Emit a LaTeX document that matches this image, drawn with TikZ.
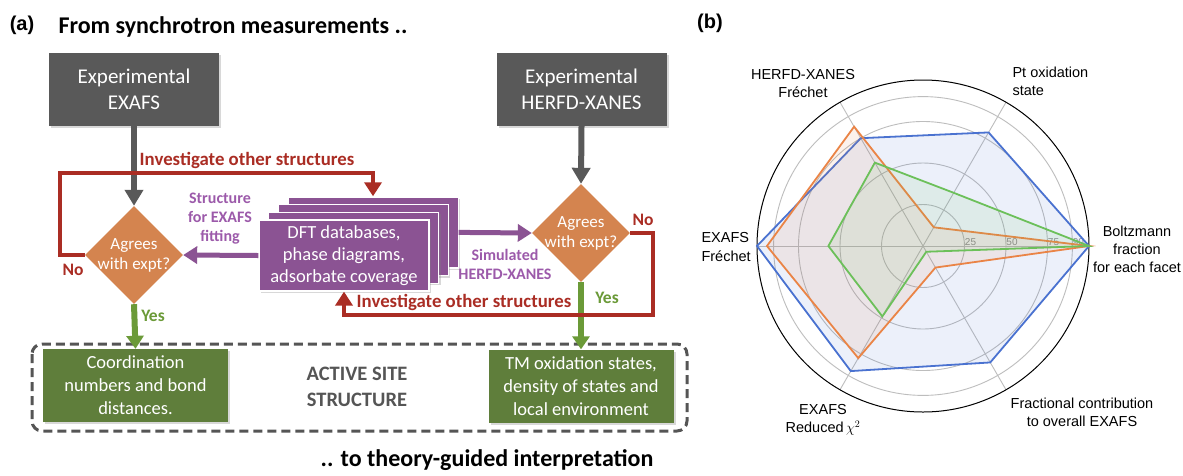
\documentclass[tikz,border=0pt]{standalone}
\usepackage{fontspec}
\setmainfont{Carlito}
\newfontfamily\arialfont{Liberation Sans}
\usepackage{tikz}
\usetikzlibrary{arrows.meta,calc,positioning,shapes.geometric,shadows}
\definecolor{BoxGray}{HTML}{595959}
\definecolor{Agree}{HTML}{D4844F}
\definecolor{Dft}{HTML}{8B5393}
\definecolor{DftText}{HTML}{9C5AAA}
\definecolor{Loop}{HTML}{AA2D24}
\definecolor{Leaf}{HTML}{5F7E3B}
\definecolor{LeafArrow}{HTML}{6B9A38}
\definecolor{Frame}{HTML}{555555}
\definecolor{GridGray}{HTML}{BDBDBD}
\definecolor{SetBlue}{HTML}{4A72D0}
\definecolor{SetOrange}{HTML}{EA8446}
\definecolor{SetGreen}{HTML}{6CC05A}
\def\rs{1.66}

\begin{document}
\begin{tikzpicture}[
  x=1pt,
  y=-1pt,
  softshadow/.style={drop shadow={opacity=0.3,shadow xshift=2pt,shadow yshift=-2pt}},
  expbox/.style={fill=BoxGray,text=white,minimum width=170pt,minimum height=73pt,inner sep=0pt,align=center,font=\fontsize{21}{26}\selectfont,softshadow},
  agree/.style={diamond,fill=Agree,minimum width=98pt,minimum height=98pt,inner sep=0pt},
  agreetext/.style={text=white,align=center,font=\fontsize{17}{20}\selectfont},
  dftbox/.style={fill=Dft,draw=white,line width=1.2pt,minimum width=170pt,minimum height=71pt,inner sep=0pt,align=center,text=white,font=\fontsize{18.5}{22}\selectfont,softshadow},
  leaf/.style={fill=Leaf,text=white,minimum width=185pt,minimum height=73pt,inner sep=0pt,align=center,font=\fontsize{18.5}{23}\selectfont,softshadow},
  grayarrow/.style={BoxGray,line width=6pt,-{Triangle[width=18pt,length=16pt]}},
  leafarrow/.style={LeafArrow,line width=6pt,-{Triangle[width=17pt,length=13pt]}},
  dftarrow/.style={Dft,line width=5pt,-{Triangle[width=17pt,length=14pt]}},
  loopline/.style={Loop,line width=4.5pt,-{Triangle[width=17pt,length=14pt]}},
  looplabel/.style={text=Loop,font=\bfseries\fontsize{18.8}{21}\selectfont},
  dftlabel/.style={text=DftText,align=center,font=\bfseries\fontsize{16}{19}\selectfont},
  yesno/.style={font=\bfseries\fontsize{17.5}{20}\selectfont},
  heading/.style={font=\bfseries\fontsize{24}{28}\selectfont},
  panel/.style={font=\arialfont\bfseries\fontsize{20}{24}\selectfont},
  gridline/.style={GridGray,line width=0.9pt},
  ticklabel/.style={text=black!45,font=\arialfont\fontsize{10}{12}\selectfont},
  axislabel/.style={font=\arialfont\fontsize{14.5}{18}\selectfont},
  dataline/.style={line width=1.8pt,line join=miter}
]
  \useasboundingbox[fill=white] (0,0) rectangle (1183,475);

  % Panel (a) headings
  \node[panel] (pa) at (22,25) {(a)};
  \node[heading,anchor=west] (head) at (55,27) {From synchrotron measurements ..};
  \node[heading] (foot) at (487,460) {.. to theory-guided interpretation};

  % Active site frame
  \draw[Frame,line width=3pt,dash pattern=on 9pt off 5pt,rounded corners=10pt] (32,344) rectangle (687,431);
  \node[text=Frame,align=center,font=\bfseries\fontsize{20.5}{26}\selectfont] (site) at (357,387) {ACTIVE SITE\\STRUCTURE};

  % Measurements
  \node[expbox] (exafs) at (134,89.5) {Experimental\\EXAFS};
  \node[expbox] (herfd) at (581.5,89.5) {Experimental\\HERFD-XANES};

  % Decisions
  \node[agree,label={[agreetext]center:Agrees\\with expt?}] (agL) at (134,255) {};
  \node[agree,label={[agreetext]center:Agrees\\with expt?}] (agR) at (581,233) {};

  % DFT stack
  \foreach \k in {3,2,1} {\node[dftbox] (dftback\k) at (344+9.7*\k,255.5-7.7*\k) {};}
  \node[dftbox] (dft) at (344,255.5) {DFT databases,\\phase diagrams,\\adsorbate coverage};

  % Results
  \node[leaf] (leafL) at (135.5,385.5) {Coordination\\numbers and bond\\distances.};
  \node[leaf] (leafR) at (581,386) {TM oxidation states,\\density of states and\\local environment};

  % Connectors
  \draw[grayarrow] (exafs.south) -- (agL.north);
  \draw[grayarrow] (herfd.south) -- (agR.north);
  \draw[dftarrow] (dft.west) -- (agL.east);
  \draw[dftarrow] (dftback3.east) -- (agR.west);
  \draw[leafarrow] (agL.south) -- (leafL.north);
  \draw[leafarrow] (agR.south) -- (leafR.north);
  \coordinate (topturn) at (373,173);
  \coordinate (botturn) at (653,315);
  \draw[loopline] (agL.west) -- ++(-25,0) |- (topturn) -- (topturn |- dftback3.north);
  \draw[loopline] (agR.east) -| (botturn) -| (dft.south);

  % Connector labels
  \node[looplabel] (invtop) at (247,160) {Investigate other structures};
  \node[looplabel] (invbot) at (464,302) {Investigate other structures};
  \node[dftlabel] (fitlbl) at (220,219) {Structure\\for EXAFS\\fitting};
  \node[dftlabel] (simlbl) at (505,264) {Simulated\\HERFD-XANES};
  \node[yesno,text=Loop] (noL) at (73,270) {No};
  \node[yesno,text=Loop] (noR) at (643,220) {No};
  \node[yesno,text=LeafArrow] (yesL) at (153,316) {Yes};
  \node[yesno,text=LeafArrow] (yesR) at (607,298) {Yes};

  % Panel (b) radar
  \node[panel] (pb) at (710,23) {(b)};
  \begin{scope}[shift={(923,246)},yscale=-1]
    \foreach \r in {25,50,75,90} {\draw[gridline] (0,0) circle[radius=\rs*\r];}
    \foreach \a in {0,60,...,300} {\draw[gridline] (0,0) -- (\a:166);}
    \draw[black,line width=1pt] (0,0) circle[radius=166];
    \foreach \v in {25,50,75,90} {\node[ticklabel] (tick\v) at ({\rs*\v+6},4) {\v};}
    \fill[SetBlue,fill opacity=0.1] (0:{\rs*100}) -- (60:{\rs*79}) -- (120:{\rs*75}) -- (180:{\rs*100}) -- (240:{\rs*87}) -- (300:{\rs*81}) -- cycle;
    \draw[dataline,SetBlue] (0:{\rs*100}) -- (60:{\rs*79}) -- (120:{\rs*75}) -- (180:{\rs*100}) -- (240:{\rs*87}) -- (300:{\rs*81}) -- cycle;
    \fill[SetOrange,fill opacity=0.1] (0:{\rs*100}) -- (60:{\rs*13}) -- (120:{\rs*83}) -- (180:{\rs*94}) -- (240:{\rs*78}) -- (300:{\rs*15}) -- cycle;
    \draw[dataline,SetOrange] (0:{\rs*100}) -- (60:{\rs*13}) -- (120:{\rs*83}) -- (180:{\rs*94}) -- (240:{\rs*78}) -- (300:{\rs*15}) -- cycle;
    \fill[SetGreen,fill opacity=0.1] (0:{\rs*100}) -- (60:{\rs*37}) -- (120:{\rs*58}) -- (180:{\rs*57}) -- (240:{\rs*49}) -- (300:{\rs*4}) -- cycle;
    \draw[dataline,SetGreen] (0:{\rs*100}) -- (60:{\rs*37}) -- (120:{\rs*58}) -- (180:{\rs*57}) -- (240:{\rs*49}) -- (300:{\rs*4}) -- cycle;
  \end{scope}

  % Radar axis labels
  \node[axislabel,align=center] (axherfd) at (803,84) {HERFD-XANES\\Fréchet};
  \node[axislabel,align=left,anchor=west] (axpt) at (1009,81) {Pt oxidation\\state};
  \node[axislabel,align=center] (axboltz) at (1137,249) {Boltzmann\\fraction\\for each facet};
  \node[axislabel,align=left,anchor=west] (axexafs) at (698,247) {EXAFS\\Fréchet};
  \node[axislabel,align=center] (axchi) at (823,420) {EXAFS\\Reduced\,$\chi^2$};
  \node[axislabel,align=center] (axfrac) at (1082,412) {Fractional contribution\\to overall EXAFS};
\end{tikzpicture}
\end{document}
